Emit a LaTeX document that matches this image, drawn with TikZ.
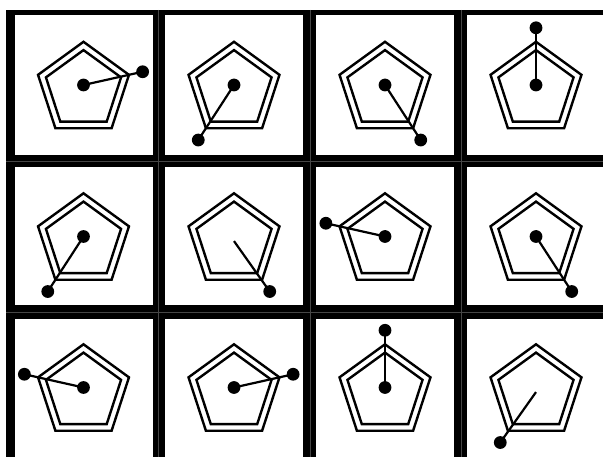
\documentclass[tikz,border=0pt]{standalone}
\usetikzlibrary{calc}
\begin{document}
\begin{tikzpicture}[x=1pt,y=-1pt,
  pent/.style={line width=2.4pt, line join=miter},
  link/.style={line width=2.2pt},
  blob/.style={circle, fill=black, inner sep=0pt, minimum size=12.8pt},
  sep/.style={draw=gray!55!black, line width=0.6pt}]
\useasboundingbox (0,0) rectangle (603,457);
\fill[white] (0,0) rectangle (603,457);
\fill[black] (6,10) rectangle (603,457);
\foreach \x in {158,310,461} \draw[sep] (\x,10) -- (\x,457);
\foreach \y in {161.5,312} \draw[sep] (6,\y) -- (603,\y);
\foreach \xa/\xb in {14.5/152.5,165/303,316/454,467/603}
  \foreach \ya/\yb in {15/155,167.5/305.5,319.5/457}
    \fill[white] (\xa,\ya) rectangle (\xb,\yb);
\foreach \cx/\cy/\ang/\hasdot [count=\k] in {83.5/85/342/1, 234/85/126/1, 385/85/54/1, 536/85/270/1,
  83.5/236.5/126/1, 234/236.5/54/0, 385/236.5/198/1, 536/236.5/54/1,
  83.5/387.5/198/1, 234/387.5/342/1, 385/387.5/270/1, 536/387.5/126/0}
{
  \coordinate (c\k) at (\cx,\cy);
  \coordinate (o\k) at (\cx,\cy+4.6);
  \begin{scope}[shift={(o\k)}]
    \draw[pent] (270:47.8) -- (342:47.8) -- (54:47.8) -- (126:47.8) -- (198:47.8) -- cycle;
    \draw[pent] (270:39.5) -- (342:39.5) -- (54:39.5) -- (126:39.5) -- (198:39.5) -- cycle;
  \end{scope}
  \coordinate (v\k) at ($(o\k)+(\ang:47.8)$);
  \node[blob] (d\k) at ($(v\k)!-14pt!(c\k)$) {};
  \ifnum\hasdot=1
    \node[blob] (m\k) at (c\k) {};
    \draw[link] (m\k.center) -- (d\k.center);
  \else
    \draw[link] (o\k) -- (d\k.center);
  \fi
}
\end{tikzpicture}
\end{document}
